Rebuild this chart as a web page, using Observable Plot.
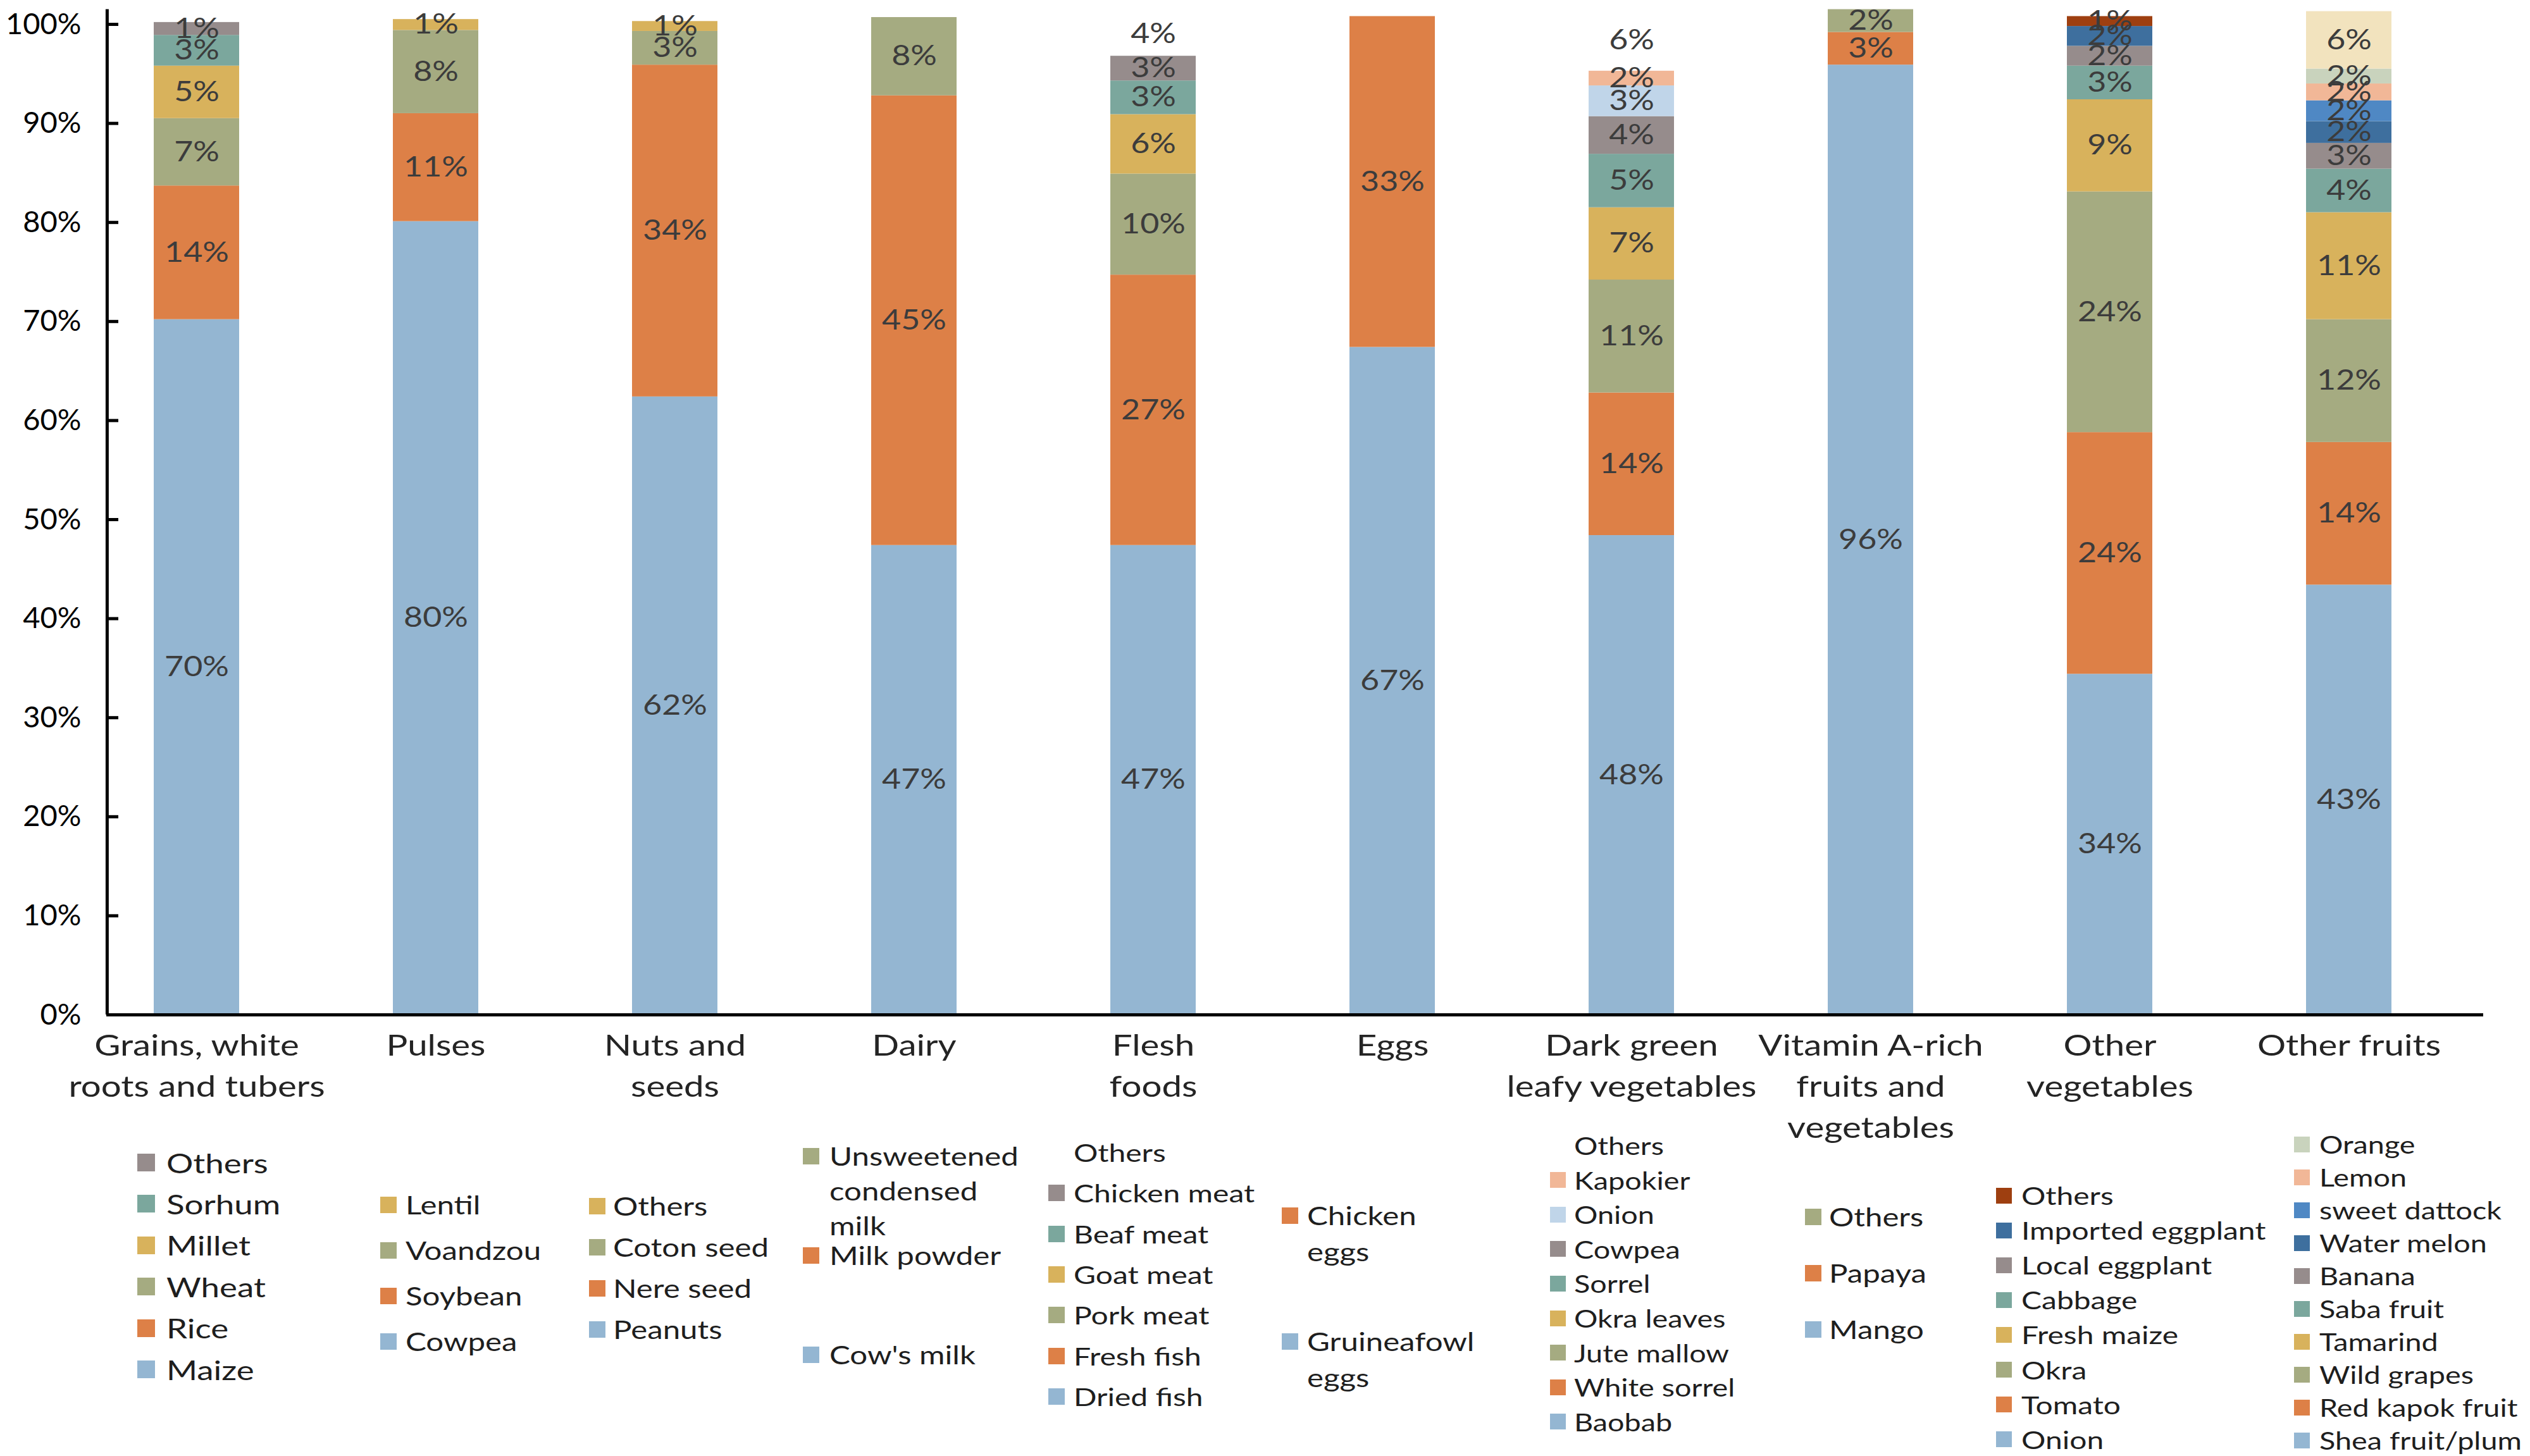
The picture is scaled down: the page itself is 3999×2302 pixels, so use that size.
<!DOCTYPE html>
<html>
<head>
<meta charset="utf-8">
<script src="https://cdn.jsdelivr.net/npm/d3@7"></script>
<script src="https://cdn.jsdelivr.net/npm/@observablehq/plot@0.6"></script>
<style>
  html, body { margin: 0; padding: 0; background: #ffffff; }
  #page { position: relative; width: 3999px; height: 2302px; overflow: hidden; font-family: Lato, "Open Sans", sans-serif; }
  #legend { position: relative; width: 3999px; height: 472px; }
  .entry { position: absolute; display: flex; align-items: flex-start; color: #1e1e1e; white-space: pre-line; }
  .sw { flex: none; }
  .lt { display: inline-block; transform-origin: 0 0; white-space: pre; }
</style>
</head>
<body>
<div id="page"><div id="chart"></div><div id="legend"></div></div>
<script>
// ---------- data ----------
const categories = ["Grains, white roots and tubers", "Pulses", "Nuts and seeds", "Dairy", "Flesh foods", "Eggs",
  "Dark green leafy vegetables", "Vitamin A-rich fruits and vegetables", "Other vegetables", "Other fruits"];
const categoryLabels = ["Grains, white\nroots and tubers", "Pulses", "Nuts and\nseeds", "Dairy", "Flesh\nfoods", "Eggs",
  "Dark green\nleafy vegetables", "Vitamin A-rich\nfruits and\nvegetables", "Other\nvegetables", "Other fruits"];
const yTicks = [0, 10, 20, 30, 40, 50, 60, 70, 80, 90, 100];

// items listed bottom → top of each bar; values in %
const grainsItems = ["Maize", "Rice", "Wheat", "Millet", "Sorhum", "Others"];
const grainsValues = [70.2, 13.5, 6.8, 5.3, 3.1, 1.3];
const pulsesItems = ["Cowpea", "Soybean", "Voandzou", "Lentil"];
const pulsesValues = [80.1, 10.9, 8.4, 1.1];
const nutsItems = ["Peanuts", "Nere seed", "Coton seed", "Others"];
const nutsValues = [62.4, 33.5, 3.4, 1.0];
const dairyItems = ["Cow's milk", "Milk powder", "Unsweetened condensed milk"];
const dairyValues = [47.4, 45.4, 7.9];
const fleshItems = ["Dried fish", "Fresh fish", "Pork meat", "Goat meat", "Beaf meat", "Chicken meat", "Others"];
const fleshValues = [47.4, 27.3, 10.2, 6.0, 3.4, 2.5, 4.4];
const eggsItems = ["Gruineafowl eggs", "Chicken eggs"];
const eggsValues = [67.4, 33.4];
const leafyItems = ["Baobab", "White sorrel", "Jute mallow", "Okra leaves", "Sorrel", "Cowpea", "Onion", "Kapokier", "Others"];
const leafyValues = [48.4, 14.4, 11.4, 7.3, 5.4, 3.8, 3.1, 1.5, 6.2];
const vitaminAItems = ["Mango", "Papaya", "Others"];
const vitaminAValues = [95.9, 3.3, 2.3];
const otherVegItems = ["Onion", "Tomato", "Okra", "Fresh maize", "Cabbage", "Local eggplant", "Imported eggplant", "Others"];
const otherVegValues = [34.4, 24.4, 24.3, 9.3, 3.4, 2.0, 2.0, 1.0];
const otherFruitItems = ["Shea fruit/plum", "Red kapok fruit", "Wild grapes", "Tamarind", "Saba fruit", "Banana",
  "Water melon", "sweet dattock", "Lemon", "Orange", "Others"];
const otherFruitValues = [43.4, 14.4, 12.4, 10.8, 4.4, 2.6, 2.2, 2.1, 1.7, 1.5, 5.8];

const itemsByCategory = [grainsItems, pulsesItems, nutsItems, dairyItems, fleshItems, eggsItems, leafyItems, vitaminAItems, otherVegItems, otherFruitItems];
const valuesByCategory = [grainsValues, pulsesValues, nutsValues, dairyValues, fleshValues, eggsValues, leafyValues, vitaminAValues, otherVegValues, otherFruitValues];

// ---------- styles ----------
const C = {
  blue: "#94B6D2", orange: "#DD8047", olive: "#A5AB81", gold: "#D8B25C", teal: "#7BA79D", mauve: "#968C8C",
  paleBlue: "#C0D5E9", peach: "#F1B797", navy: "#3E6F9E", rust: "#9E3F10", midBlue: "#4F88C4", sage: "#C9D3BD",
  cream: "#F2E3BE", blank: "#FFFFFF"
};
const base = [C.blue, C.orange, C.olive, C.gold, C.teal, C.mauve];
const colorsByCategory = [
  base.slice(0, 6), base.slice(0, 4), base.slice(0, 4), base.slice(0, 3),
  [...base, C.blank], base.slice(0, 2),
  [...base, C.paleBlue, C.peach, C.blank], base.slice(0, 3),
  [...base, C.navy, C.rust],
  [...base, C.navy, C.midBlue, C.peach, C.sage, C.cream]
];
const legendOmit = new Set(["Other fruits|Others"]);
const legendBreaks = {"Unsweetened condensed milk": "Unsweetened\ncondensed\nmilk", "Chicken eggs": "Chicken\neggs", "Gruineafowl eggs": "Gruineafowl\neggs"};
// legend columns: swatch x, text x, first row centre y, row step, font size, line height, swatch size (page px)
const legendLayout = [
  {sx: 217, tx: 263, y0: 1838, step: 65.4, fs: 43, lh: 55, sw: 28},
  {sx: 601, tx: 641, y0: 1905, step: 72, fs: 40, lh: 52, sw: 26},
  {sx: 931, tx: 969, y0: 1907, step: 65, fs: 40, lh: 52, sw: 26},
  {sx: 1269, tx: 1311, y0: 1828, step: 157, fs: 40, lh: 55, sw: 26},
  {sx: 1657, tx: 1697, y0: 1822, step: 64.3, fs: 39, lh: 52, sw: 26},
  {sx: 2026, tx: 2066, y0: 1922, step: 199, fs: 40, lh: 57, sw: 26},
  {sx: 2450, tx: 2488, y0: 1811, step: 54.6, fs: 38, lh: 50, sw: 25},
  {sx: 2853, tx: 2891, y0: 1924, step: 89, fs: 40, lh: 52, sw: 26},
  {sx: 3155, tx: 3195, y0: 1890, step: 55.1, fs: 39, lh: 50, sw: 25},
  {sx: 3626, tx: 3666, y0: 1809, step: 52, fs: 38, lh: 50, sw: 25}
];
const stretch = {barLabel: 1.18, xLabel: 1.2, legend: 1.23};

// ---------- table ----------
const rows = categories.flatMap((c, i) => itemsByCategory[i].map((s, j) => ({
  category: c, item: s, value: valuesByCategory[i][j], key: c + "|" + s, color: colorsByCategory[i][j]
})));

// ---------- chart ----------
const W = 3999, H = 1830;
const mL = 168, mR = 74, mT = 14.5, y0px = 1604;
const yMax = 101.5;
const band = {paddingInner: 0.643, paddingOuter: 0.289, align: 0.339};
const xs = d3.scaleBand(categories, [mL, W - mR]).paddingInner(band.paddingInner).paddingOuter(band.paddingOuter).align(band.align);
const axisDx = mL - (xs(categories[0]) + xs.bandwidth() / 2);

const chart = Plot.plot({
  width: W, height: H,
  marginLeft: mL, marginRight: mR, marginTop: mT, marginBottom: H - y0px,
  style: {fontFamily: "Lato, 'Open Sans', sans-serif", background: "#ffffff", overflow: "visible"},
  x: {domain: categories, ...band, label: null},
  y: {domain: [0, yMax], label: null},
  color: {type: "identity"},
  marks: [
    Plot.barY(rows, Plot.stackY({x: "category", y: "value", z: "key", fill: "color", order: null})),
    Plot.text(rows, Plot.stackY({x: "category", y: "value", z: "key", order: null,
      text: d => Math.round(d.value) + "%", fill: "#3c3c3c", fontSize: 44, className: "bar-label"})),
    Plot.ruleY([0], {stroke: "#000", strokeWidth: 5}),
    Plot.ruleX([categories[0]], {y1: 0, y2: yMax, dx: axisDx, stroke: "#000", strokeWidth: 5}),
    Plot.axisY({ticks: yTicks, tickSize: 19, dx: 19, tickFormat: () => "", stroke: "#000", strokeWidth: 5}),
    Plot.axisY({ticks: yTicks, tickSize: 0, tickPadding: 40, tickFormat: d => d + "%", fontSize: 47, fill: "#000"}),
    Plot.axisX({tickSize: 0, tickPadding: 18, tickFormat: d => categoryLabels[categories.indexOf(d)],
      fontSize: 47, lineHeight: 1.383, fill: "#242424", className: "x-label"})
  ]
});
document.getElementById("chart").appendChild(chart);

// widen glyphs horizontally (the reference's lettering is wide) around each text's own anchor
function widen(selector, s) {
  chart.querySelectorAll(selector).forEach(t => {
    const tr = t.getAttribute("transform");
    if (tr) t.setAttribute("transform", tr + ` scale(${s},1)`);
  });
}
widen("g.bar-label text, .bar-label text", stretch.barLabel);
widen("g.x-label text, .x-label text, g[aria-label='x-axis tick label'] text", stretch.xLabel);

// ---------- legend (one column under each bar) ----------
const legend = document.getElementById("legend");
categories.forEach((c, i) => {
  const L = legendLayout[i];
  const list = itemsByCategory[i].map((s, j) => ({item: s, color: colorsByCategory[i][j]})).reverse()
    .filter(e => !legendOmit.has(c + "|" + e.item));
  list.forEach((e, k) => {
    const cy = L.y0 + k * L.step - H;
    const div = document.createElement("div");
    div.className = "entry";
    div.style.left = L.sx + "px";
    div.style.top = (cy - L.lh / 2) + "px";
    const sw = document.createElement("div");
    sw.className = "sw";
    sw.style.width = L.sw + "px";
    sw.style.height = L.sw + "px";
    sw.style.marginTop = ((L.lh - L.sw) / 2) + "px";
    sw.style.marginRight = (L.tx - L.sx - L.sw) + "px";
    sw.style.background = e.color;
    const tx = document.createElement("span");
    tx.className = "lt";
    tx.textContent = legendBreaks[e.item] || e.item;
    tx.style.fontSize = L.fs + "px";
    tx.style.lineHeight = L.lh + "px";
    tx.style.transform = `scaleX(${stretch.legend})`;
    div.appendChild(sw);
    div.appendChild(tx);
    legend.appendChild(div);
  });
});
</script>
</body>
</html>
